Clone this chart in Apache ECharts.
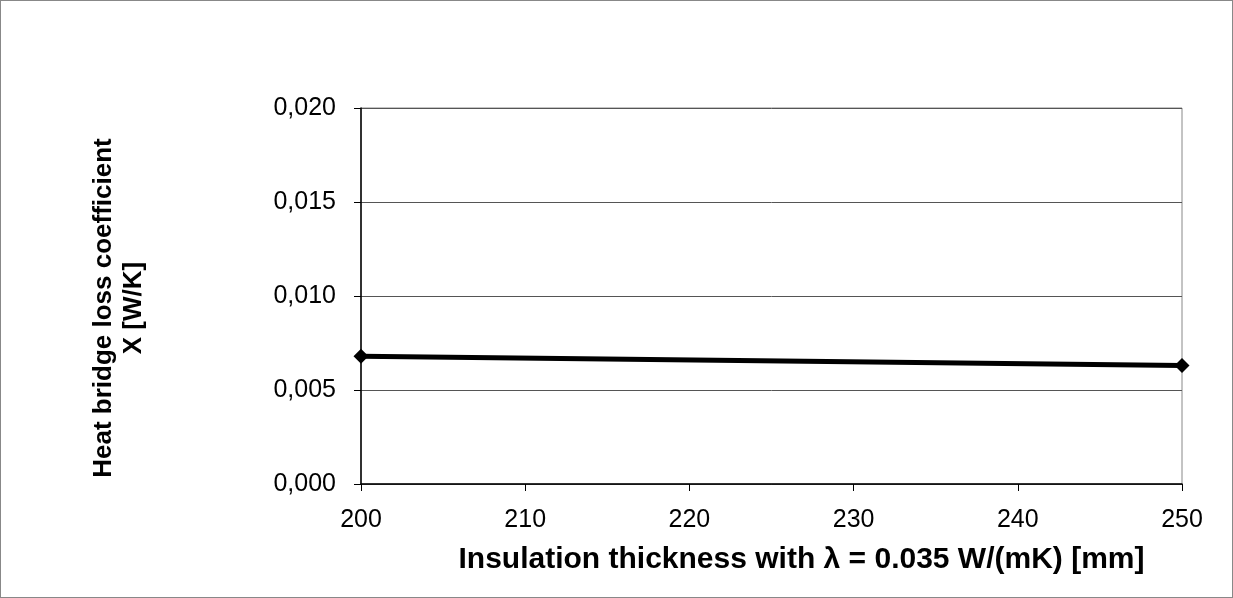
<!DOCTYPE html>
<html>
<head>
<meta charset="utf-8">
<script src="https://cdn.jsdelivr.net/npm/echarts@6/dist/echarts.min.js"></script>
<style>
  html, body { margin: 0; padding: 0; background: #fff; }
  #main { width: 1233px; height: 598px; box-sizing: border-box; border: 1px solid #888; }
</style>
</head>
<body>
<div id="main"></div>
<script>
// insulation thickness [mm]
var thickness = [200, 250];
// heat bridge loss coefficient [W/K]
var lossCoef = [0.0068, 0.0063];

var yTicks = [0, 0.005, 0.010, 0.015, 0.020];

var points = thickness.map(function (t, i) { return [t, lossCoef[i]]; });

var myChart = echarts.init(document.getElementById('main'));
var font = 'Liberation Sans, Arial, sans-serif';

var option = {
  backgroundColor: '#fff',
  animation: false,
  grid: {
    left: 360, right: 50, top: 107, bottom: 113,
    show: true, borderColor: '#888', borderWidth: 1
  },
  xAxis: {
    type: 'value',
    min: 200, max: 250, interval: 10,
    name: 'Insulation thickness with λ = 0.035 W/(mK) [mm]',
    nameLocation: 'middle',
    nameGap: 61,
    nameTextStyle: { fontFamily: font, fontSize: 30, fontWeight: 'bold', color: '#000', padding: [0, 0, 0, 60] },
    axisLine: { lineStyle: { color: '#000', width: 1.5 } },
    axisTick: { show: true, inside: false, length: 7, lineStyle: { color: '#000' } },
    axisLabel: { fontFamily: font, fontSize: 25, color: '#000', margin: 24 },
    splitLine: { show: false }
  },
  yAxis: {
    type: 'value',
    min: yTicks[0], max: yTicks[yTicks.length - 1], interval: 0.005,
    name: 'Heat bridge loss coefficient\nX [W/K]',
    nameLocation: 'middle',
    nameGap: 212,
    nameRotate: 90,
    nameTextStyle: { fontFamily: font, fontSize: 26, fontWeight: 'bold', color: '#000', lineHeight: 30, padding: [0, 24, 0, 0] },
    axisLine: { show: true, lineStyle: { color: '#000', width: 1.5 } },
    axisTick: { show: true, inside: false, length: 7, lineStyle: { color: '#000' } },
    axisLabel: {
      fontFamily: font, fontSize: 25, color: '#000', margin: 25,
      formatter: function (v) { return v.toFixed(3).replace('.', ','); }
    },
    splitLine: { show: true, lineStyle: { color: '#555', width: 1 } }
  },
  series: [{
    type: 'line',
    data: points,
    symbol: 'diamond',
    symbolSize: 15,
    lineStyle: { color: '#000', width: 5 },
    itemStyle: { color: '#000' }
  }]
};

myChart.setOption(option);
</script>
</body>
</html>
